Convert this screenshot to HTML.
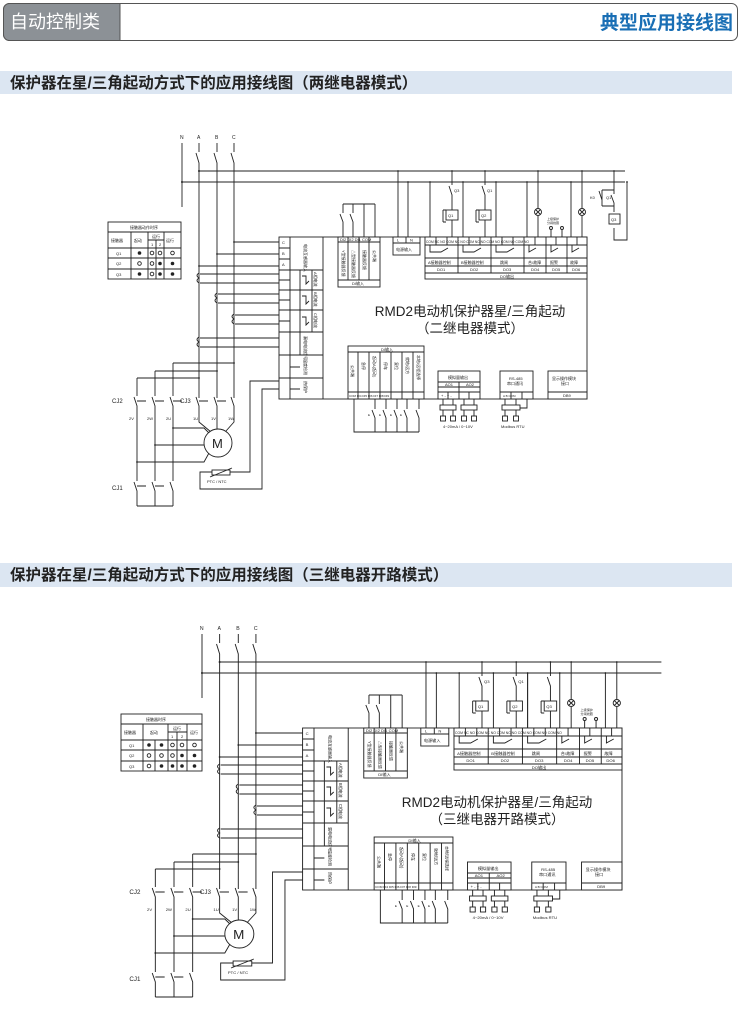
<!DOCTYPE html>
<html><head><meta charset="utf-8">
<style>
html,body{margin:0;padding:0;background:#fff;}
svg{display:block;}
text{font-family:"Liberation Sans","Noto Sans CJK SC",sans-serif;fill:#222;}
.s{fill:none;stroke:#222;stroke-width:0.9;}
.b{fill:#fff;stroke:#222;stroke-width:0.9;}
.t{font-size:4px;}
.d{fill:#222;}
</style></head><body>
<svg width="750" height="1010" viewBox="0 0 750 1010" xmlns="http://www.w3.org/2000/svg">
<defs>
<g id="dg">
  <text x="180" y="139" font-size="5">N</text><text x="197" y="139" font-size="5">A</text>
  <text x="215" y="139" font-size="5">B</text><text x="232" y="139" font-size="5">C</text>
  <path class="s" d="M182 143V207"/>
  <path class="s" d="M199 143V152M196 153L199 163V398M217 143V152M214 153L217 163V398M234 143V152M231 153L234 163V398"/>
  <path class="s" d="M199 171H625M182 182H625"/>
  <circle class="d" cx="199" cy="171" r="1"/><circle class="d" cx="182" cy="182" r="1"/>
  <path class="s" d="M234 242H279M217 254H279M199 266H279"/>
  <circle class="d" cx="234" cy="242" r="0.9"/><circle class="d" cx="217" cy="254" r="0.9"/><circle class="d" cx="199" cy="266" r="0.9"/>
  <path class="s" d="M199 273q-4 2.5 0 5q-4 2.5 0 5M200 274H279M200 283H279"/>
  <path class="s" d="M217 293q-4 2.5 0 5q-4 2.5 0 5M218 294H279M218 303H279"/>
  <path class="s" d="M234 314q-4 2.5 0 5q-4 2.5 0 5M235 315H279M235 324H279"/>
  <path class="s" d="M199 337q-4 2.5 0 5q-4 2.5 0 5M200 338H279M200 347H279"/>
  <path class="s" d="M173 363H234M155 371H217M137 378H199"/>
  <circle class="d" cx="234" cy="363" r="0.9"/><circle class="d" cx="217" cy="371" r="0.9"/><circle class="d" cx="199" cy="378" r="0.9"/>
  <path class="s" d="M137 378V396M134 397L137 406V481M134 482L137 491V506M155 371V396M152 397L155 406V481M152 482L155 491V506M173 363V396M170 397L173 406V481M170 482L173 491V506M137 506H173"/>
  <path class="s" d="M137 401H146M155 401H164M173 401H182M199 401H208M217 401H226M137 486H146M155 486H164"/>
  <path class="s" d="M196 397L199 406V422L211 432M214 397L217 406V429M231 397L234 406V422L226 431"/>
  <path class="s" d="M173 428H204L209 433M155 445H204M137 462H204L209 453"/>
  <circle class="d" cx="173" cy="428" r="0.9"/><circle class="d" cx="155" cy="445" r="0.9"/><circle class="d" cx="137" cy="462" r="0.9"/>
  <circle class="b" cx="218" cy="443" r="14"/>
  <text x="212" y="448" font-size="13">M</text>
  <text x="112" y="403" font-size="6">CJ2</text><text x="180" y="403" font-size="6">CJ3</text><text x="112" y="490" font-size="6">CJ1</text>
  <text class="t" x="129" y="420">2V</text><text class="t" x="147" y="420">2W</text><text class="t" x="166" y="420">2U</text>
  <text class="t" x="193" y="420">1U</text><text class="t" x="211" y="420">1V</text><text class="t" x="228" y="420">1W</text>
  <rect class="b" x="212" y="470" width="18" height="5"/><path class="s" d="M210 477L232 468"/>
  <path class="s" d="M212 472H200V489H262V389H279M230 472H250V381H279"/>
  <text class="t" x="207" y="483">PTC / NTC</text>
  <rect class="b" x="279" y="237" width="308" height="162"/>
  <path class="s" d="M290 237V399M323 237V399M300 270V355M312 270V332M279 270H323M279 290H323M279 310H323M279 332H323M279 355H323M279 378H323M279 248H290M279 259H290M279 280H290M279 300H290M279 321H290M290 367H300M290 389H300"/>
  <text class="t" x="282" y="244">C</text><text class="t" x="282" y="255">B</text><text class="t" x="282" y="266">A</text>
  <path class="s" d="M302 276h4v8l3 -3M302 296h4v8l3 -3M302 317h4v8l3 -3"/>
  <text class="t" transform="translate(304 244) rotate(90)">电流互感器输入</text>
  <text class="t" transform="translate(314 272) rotate(90)">A相电流</text>
  <text class="t" transform="translate(314 292) rotate(90)">B相电流</text>
  <text class="t" transform="translate(314 313) rotate(90)">C相电流</text>
  <text class="t" transform="translate(304 336) rotate(90)">漏电电流信号</text>
  <text class="t" transform="translate(304 359) rotate(90)">温度检测</text>
  <text class="t" transform="translate(304 381) rotate(90)">热保护</text>
  <path class="s" d="M343 204H375M343 204V213M340 214L343 222V237M353 204V213M350 214L353 222V237M364 204V237M375 204V237"/>
  <rect class="b" x="338" y="237" width="42" height="50"/>
  <path class="s" d="M348 237V280M359 237V280M369 237V280M338 242H380M338 280H380"/>
  <text class="t" x="340" y="241" font-size="3">DI2 DI2 DI1 COM</text>
  <text class="t" transform="translate(342 250) rotate(90)">Y型接触器反馈</text>
  <text class="t" transform="translate(352 250) rotate(90)">△型接触器反馈</text>
  <text class="t" transform="translate(363 250) rotate(90)">接触器反馈</text>
  <text class="t" transform="translate(373 250) rotate(90)">公共端</text>
  <text class="t" x="352" y="285">DI输入</text>
  <path class="s" d="M398 171V237M408 182V237"/>
  <circle class="d" cx="398" cy="171" r="0.9"/><circle class="d" cx="408" cy="182" r="0.9"/>
  <rect class="b" x="393" y="237" width="27" height="18"/><path class="s" d="M406 237V243M393 243H420"/>
  <text class="t" x="397" y="241.5">L</text><text class="t" x="410" y="241.5">N</text><text class="t" x="396" y="251">电源输入</text>
  <rect class="b" x="425" y="237" width="162" height="42"/>
  <path class="s" d="M425 245H587M425 258H587M425 266H587M425 273H587M458 237V273M491 237V273M524 237V273M546 237V273M567 237V273M436 237V245M447 237V245M469 237V245M480 237V245M502 237V245M513 237V245M535 237V245M556 237V245M577 237V245"/>
  <path class="s" d="M430 245V252H441L448 248M463 245V252H474L481 248M496 245V252H507L514 248M529 245V252L536 248M551 245V252L558 248M572 245V252L579 248"/>
  <text x="426" y="243" font-size="3.3">COM NC NO COM NC NO COM NC NO COM NO COM NO COM NO</text>
  <text class="t" x="428" y="264" font-size="3.3">A接触器控制</text><text class="t" x="461" y="264" font-size="3.3">B接触器控制</text>
  <text class="t" x="500" y="264" font-size="3.3">跳闸</text><text class="t" x="528" y="264" font-size="3.3">合/故障</text>
  <text class="t" x="550" y="264" font-size="3.3">报警</text><text class="t" x="570" y="264" font-size="3.3">故障</text>
  <text class="t" x="437" y="271" font-size="3.3">DO1</text><text class="t" x="470" y="271" font-size="3.3">DO2</text><text class="t" x="503" y="271" font-size="3.3">DO3</text>
  <text class="t" x="531" y="271" font-size="3.3">DO4</text><text class="t" x="552" y="271" font-size="3.3">DO5</text><text class="t" x="572" y="271" font-size="3.3">DO6</text>
  <text class="t" x="500" y="278" font-size="3.3">DO输出</text>
  <path class="s" d="M430 182V237M452 171V185M449 186L452 195V237M463 182V237M485 171V185M482 186L485 195V237M496 182V237M527 182V237M538 171V208M538 216V237M571 182V237M582 171V208M582 216V237M551 230V237M562 230V237"/>
  <rect class="b" x="446" y="210" width="12" height="10"/><text class="t" x="448" y="217">Q1</text>
  <rect class="b" x="479" y="210" width="12" height="10"/><text class="t" x="481" y="217">Q2</text>
  <path class="s" d="M443 210V222M443 210H446M443 222H446M476 210V222M476 210H479M476 222H479"/>
  <circle class="b" cx="538" cy="212" r="3.5"/><path class="s" d="M535.5 209.5l5 5M540.5 209.5l-5 5"/>
  <circle class="b" cx="582" cy="212" r="3.5"/><path class="s" d="M579.5 209.5l5 5M584.5 209.5l-5 5"/>
  <circle class="b" cx="551" cy="228" r="1.5"/><circle class="b" cx="562" cy="228" r="1.5"/>
  <text x="547" y="220" font-size="3">上级保护</text><text x="547" y="224" font-size="3">分闸线圈</text>
  <circle class="d" cx="452" cy="171" r="0.9"/><circle class="d" cx="485" cy="171" r="0.9"/><circle class="d" cx="538" cy="171" r="0.9"/><circle class="d" cx="582" cy="171" r="0.9"/>
  <circle class="d" cx="430" cy="182" r="0.9"/><circle class="d" cx="463" cy="182" r="0.9"/><circle class="d" cx="496" cy="182" r="0.9"/><circle class="d" cx="527" cy="182" r="0.9"/><circle class="d" cx="571" cy="182" r="0.9"/>
  <text class="t" x="454" y="192">Q3</text><text class="t" x="487" y="192">Q1</text>
  <rect class="b" x="348" y="346" width="76" height="53"/>
  <path class="s" d="M348 352H424M348 392H424M358 352V399M369 352V399M380 352V399M391 352V399M402 352V399M413 352V399"/>
  <text class="t" x="381" y="351">DI输入</text>
  <text x="349" y="397" font-size="3">COM DI4 DI5 DI6 DI7 DI8 DI9</text>
  <text class="t" transform="translate(351 365) rotate(90)">公共端</text>
  <text class="t" transform="translate(362 362) rotate(90)">急停</text>
  <text class="t" transform="translate(373 356) rotate(90)">起动A(起动)</text>
  <text class="t" transform="translate(384 362) rotate(90)">停车</text>
  <text class="t" transform="translate(395 362) rotate(90)">复位</text>
  <text class="t" transform="translate(406 357) rotate(90)">就地/远方</text>
  <text class="t" transform="translate(417 355) rotate(90)">本地/远程选择</text>
  <path class="s" d="M354 399V432H419M375 399V409M372 410L375 418V432M386 399V409M383 410L386 418V432M397 399V409M394 410L397 418V432M407 399V409M404 410L407 418V432M419 399V409M416 410L419 418V432"/>
  <text x="368" y="416" font-size="3">E</text><text x="379" y="416" font-size="3">E</text><text x="390" y="416" font-size="3">E</text><text x="400" y="416" font-size="3">E</text>
  <rect class="b" x="438" y="371" width="42" height="28"/>
  <path class="s" d="M438 382H480M438 387H480M438 392H480M459 382V399M448 392V399M469 392V399"/>
  <text class="t" x="448" y="379">模拟量输出</text><text class="t" x="445" y="386">AO1</text><text class="t" x="466" y="386">AO2</text>
  <text class="t" x="441" y="397">+  -  +  -</text>
  <path class="s" d="M443 399V405M453 399V405M464 399V405M474 399V405"/>
  <rect class="b" x="440" y="405" width="16" height="5"/><rect class="b" x="461" y="405" width="16" height="5"/>
  <path class="s" d="M443 410V416M453 410V416M464 410V416M474 410V416"/>
  <rect class="b" x="440.5" y="416" width="5" height="5"/><rect class="b" x="450.5" y="416" width="5" height="5"/><rect class="b" x="461.5" y="416" width="5" height="5"/><rect class="b" x="471.5" y="416" width="5" height="5"/>
  <text class="t" x="443" y="428">4~20mA / 0~10V</text>
  <rect class="b" x="500" y="371" width="33" height="28"/>
  <path class="s" d="M500 392H533M511 392V399M522 392V399"/>
  <text class="t" x="509" y="380">RS-485</text><text class="t" x="507" y="385">串口通讯</text>
  <text x="503" y="397" font-size="3">A   B  COM</text>
  <path class="s" d="M505 399V405M516 399V405M527 399V408H520"/>
  <rect class="b" x="502" y="405" width="18" height="5"/>
  <path class="s" d="M505 410V416M516 410V416"/>
  <rect class="b" x="502.5" y="416" width="5" height="5"/><rect class="b" x="513.5" y="416" width="5" height="5"/>
  <text class="t" x="501" y="428">Modbus RTU</text>
  <rect class="b" x="548" y="371" width="39" height="28"/>
  <path class="s" d="M548 392H587"/>
  <text class="t" x="552" y="380">显示操作模块</text><text class="t" x="561" y="385">接口</text><text class="t" x="563" y="397">DB9</text>
</g>
</defs>

<rect x="3.5" y="3.5" width="734" height="37" rx="6" fill="#fff" stroke="#555" stroke-width="1"/>
<path d="M9.5 3.5H120V40.5H9.5A6 6 0 0 1 3.5 34.5V9.5A6 6 0 0 1 9.5 3.5Z" fill="#8c9196" stroke="#555" stroke-width="1"/>
<text x="10" y="28" font-size="18" style="fill:#fff">自动控制类</text>
<text x="733" y="29" font-size="19" font-weight="bold" text-anchor="end" style="fill:#1a6fb5">典型应用接线图</text>

<rect x="0" y="71" width="732" height="23" fill="#dce6f2"/>
<text x="10" y="88" font-size="15.5" font-weight="bold">保护器在星/三角起动方式下的应用接线图（两继电器模式）</text>
<rect x="0" y="563" width="732" height="24" fill="#dce6f2"/>
<text x="10" y="580" font-size="15.5" font-weight="bold">保护器在星/三角起动方式下的应用接线图（三继电器开路模式）</text>

<use href="#dg"/>
<path class="s" d="M614 171V194M611 195L614 203V212M614 228V240H627V182"/>
<path class="s" d="M602 190V206M599 191L602 200M602 190H614M602 206H614"/>
<rect class="b" x="609" y="214" width="11" height="10"/><text class="t" x="611" y="221">Q3</text>
<text class="t" x="590" y="199">K0</text><text class="t" x="606" y="199">Q1</text>
<circle class="d" cx="614" cy="171" r="0.9"/><circle class="d" cx="627" cy="182" r="0.9"/>
<text x="470" y="316" font-size="13.5" text-anchor="middle">RMD2电动机保护器星/三角起动</text>
<text x="470" y="333" font-size="13.5" text-anchor="middle">（二继电器模式）</text>
<g>
<rect class="b" x="108" y="222" width="73" height="57"/>
<path class="s" d="M108 232H181M108 248H181M108 258H181M108 269H181M131 232V279M148 232V279M164 232V279M156 240V279M148 240H164"/>
<text class="t" x="130" y="229">接触器动作时序</text>
<text class="t" x="111" y="242">接触器</text><text class="t" x="134" y="242">起动</text><text class="t" x="152" y="238">运行</text><text class="t" x="166" y="242">运行</text>
<text class="t" x="151" y="246">1</text><text class="t" x="159" y="246">2</text>
<text class="t" x="116" y="255">Q1</text><text class="t" x="116" y="265">Q2</text><text class="t" x="116" y="276">Q3</text>
<circle class="d" cx="139.5" cy="253" r="1.8"/><circle class="b" cx="152" cy="253" r="1.8"/><circle class="b" cx="160" cy="253" r="1.8"/><circle class="b" cx="172.5" cy="253" r="1.8"/>
<circle class="b" cx="139.5" cy="263.5" r="1.8"/><circle class="b" cx="152" cy="263.5" r="1.8"/><circle class="d" cx="160" cy="263.5" r="1.8"/><circle class="d" cx="172.5" cy="263.5" r="1.8"/>
<circle class="d" cx="139.5" cy="274" r="1.8"/><circle class="b" cx="152" cy="274" r="1.8"/><circle class="d" cx="160" cy="274" r="1.8"/><circle class="d" cx="172.5" cy="274" r="1.8"/>
</g>

<g transform="translate(202 491) scale(1.037 1) translate(-182 0)">
<use href="#dg"/>
<path class="s" d="M496 182V237M518 171V185M515 186L518 195V237"/>
<rect class="b" x="512" y="210" width="12" height="10"/><text class="t" x="514" y="217">Q3</text>
<path class="s" d="M509 210V222M509 210H512M509 222H512"/>
<circle class="d" cx="518" cy="171" r="0.9"/>
</g>
<text x="497" y="807" font-size="13.5" text-anchor="middle">RMD2电动机保护器星/三角起动</text>
<text x="497" y="824" font-size="13.5" text-anchor="middle">（三继电器开路模式）</text>
<g>
<rect class="b" x="121" y="714" width="81" height="57"/>
<path class="s" d="M121 724H202M121 740H202M121 750H202M121 761H202M143 724V771M168 724V771M187 724V771M155 740V771M177 732V771M168 732H187"/>
<text class="t" x="146" y="721">接触器时序</text>
<text class="t" x="124" y="734">接触器</text><text class="t" x="150" y="734">起动</text><text class="t" x="173" y="730">运行</text><text class="t" x="190" y="734">运行</text>
<text class="t" x="171" y="738">1</text><text class="t" x="181" y="738">2</text>
<text class="t" x="129" y="747">Q1</text><text class="t" x="129" y="757">Q2</text><text class="t" x="129" y="768">Q3</text>
<circle class="d" cx="149" cy="745" r="1.8"/><circle class="d" cx="161.5" cy="745" r="1.8"/><circle class="b" cx="172.5" cy="745" r="1.8"/><circle class="b" cx="182" cy="745" r="1.8"/><circle class="b" cx="194.5" cy="745" r="1.8"/>
<circle class="b" cx="149" cy="755.5" r="1.8"/><circle class="b" cx="161.5" cy="755.5" r="1.8"/><circle class="b" cx="172.5" cy="755.5" r="1.8"/><circle class="d" cx="182" cy="755.5" r="1.8"/><circle class="d" cx="194.5" cy="755.5" r="1.8"/>
<circle class="b" cx="149" cy="766" r="1.8"/><circle class="d" cx="161.5" cy="766" r="1.8"/><circle class="d" cx="172.5" cy="766" r="1.8"/><circle class="d" cx="182" cy="766" r="1.8"/><circle class="d" cx="194.5" cy="766" r="1.8"/>
</g>
</svg>
</body></html>
